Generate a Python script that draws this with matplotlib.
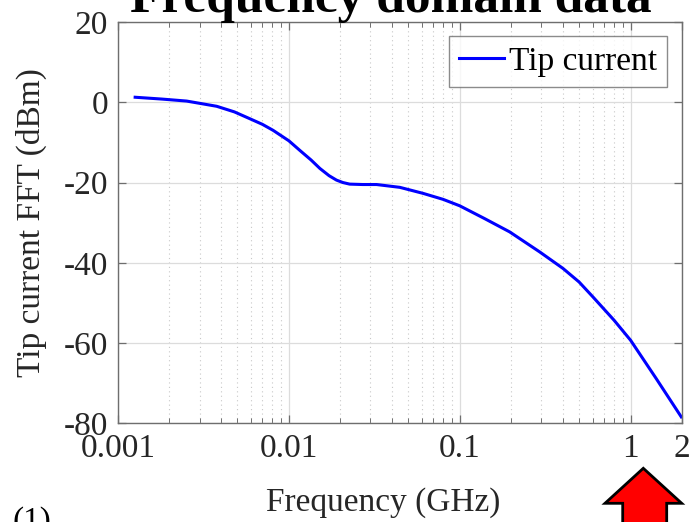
import matplotlib.pyplot as plt
from matplotlib.patches import Polygon
from matplotlib.ticker import FixedLocator, LogLocator, NullFormatter

# tip current spectrum (frequency in GHz, level in dBm)
freq_ghz = [0.00126, 0.0018, 0.00252, 0.00378, 0.0048, 0.00591, 0.0070, 0.00809,
            0.0100, 0.0116, 0.0135, 0.0152, 0.0172, 0.0190, 0.0207, 0.0227, 0.0270,
            0.0326, 0.0446, 0.061, 0.080, 0.100, 0.140, 0.196, 0.294, 0.402, 0.500,
            0.602, 0.800, 1.00, 1.41, 1.98]
tip_fft_dbm = [1.25, 0.8, 0.3, -1.0, -2.4, -4.1, -5.5, -7.0,
               -9.6, -12.0, -14.4, -16.5, -18.3, -19.4, -20.0, -20.4, -20.5,
               -20.5, -21.2, -22.7, -24.2, -25.8, -29.0, -32.3, -37.3, -41.4, -44.8,
               -48.5, -54.3, -59.3, -68.8, -78.4]

x_ticks = [0.001, 0.01, 0.1, 1, 2]
x_tick_labels = ['0.001', '0.01', '0.1', '1', '2']
y_ticks = [-80, -60, -40, -20, 0, 20]

plt.rcParams['font.family'] = ['Liberation Serif', 'DejaVu Serif']
plt.rcParams['axes.unicode_minus'] = False

W, H = 693, 522
fig = plt.figure(figsize=(W / 100, H / 100), dpi=100)
ax = fig.add_axes([118 / W, 1 - 423.3 / H, 564 / W, 401.3 / H])

ax.semilogx(freq_ghz, tip_fft_dbm, color='#0000ff', linewidth=2.2, label='Tip current')

ax.set_xlim(0.001, 2)
ax.set_ylim(-80, 20)
ax.xaxis.set_major_locator(FixedLocator(x_ticks))
ax.set_xticklabels(x_tick_labels)
ax.xaxis.set_minor_locator(LogLocator(base=10, subs=range(2, 10), numticks=20))
ax.xaxis.set_minor_formatter(NullFormatter())
ax.set_yticks(y_ticks)

ax.grid(which='major', color='#dcdcdc', linewidth=0.9, linestyle='-')
ax.grid(which='minor', axis='x', color='#c8c8c8', linewidth=0.8, linestyle=(0, (1, 3)))
ax.set_axisbelow(True)

for side in ax.spines.values():
    side.set_color('#6e6e6e')
    side.set_linewidth(1.0)
ax.tick_params(which='both', direction='in', top=True, right=True, colors='#6e6e6e',
               labelcolor='#262626', labelsize=24)
ax.tick_params(which='major', length=6, width=0.9)
ax.tick_params(which='minor', length=3.5, width=0.7)
ax.tick_params(axis='x', pad=7)
ax.tick_params(axis='y', pad=7)

ax.set_xlabel('Frequency (GHz)', fontsize=24, color='#262626')
ax.set_ylabel('Tip current FFT (dBm)', fontsize=24, color='#262626')
ax.xaxis.set_label_coords(0.47, -0.16)
ax.yaxis.set_label_coords(-0.125, 0.5)

leg = ax.legend(loc='upper right', fontsize=24, frameon=True, fancybox=False,
                handlelength=1.35, handletextpad=0.15, borderpad=0.3,
                borderaxespad=0.0, bbox_to_anchor=(0.973, 0.965))
leg.get_frame().set_edgecolor('#6e6e6e')
leg.get_frame().set_linewidth(1.0)

fig.text(391 / W, 1 - 12 / H, 'Frequency domain data', ha='center', va='baseline',
         fontsize=37, fontweight='bold')
fig.text(13 / W, 1 - 530 / H, '(1)', ha='left', va='baseline', fontsize=24)

# red pointer under the upper end of the frequency axis
arrow_px = [(643.3, 468.3), (681.7, 503.3), (666.7, 503.3), (666.7, 530),
            (622.7, 530), (622.7, 503.3), (605, 503.3)]
fig.patches.append(Polygon([(x / W, 1 - y / H) for x, y in arrow_px], closed=True,
                           facecolor='#ff0000', edgecolor='black', linewidth=2,
                           transform=fig.transFigure, figure=fig))

fig.savefig('out.png', dpi=100)
